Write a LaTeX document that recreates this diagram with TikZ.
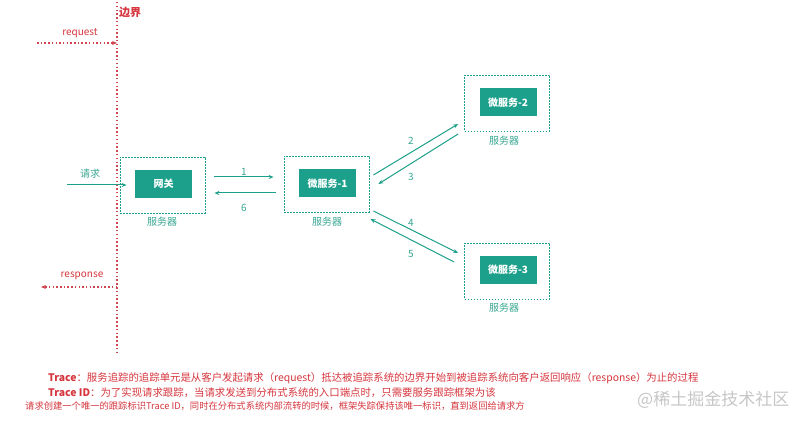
\documentclass[tikz,border=0pt]{standalone}
\usepackage{fontspec}
\setmainfont{Noto Sans CJK SC}
\usetikzlibrary{arrows.meta}
\definecolor{tealbox}{HTML}{1DA08B}
\definecolor{tealtxt}{HTML}{3AA893}
\definecolor{redb}{HTML}{D6363E}
\definecolor{redline}{HTML}{D04650}
\begin{document}
\begin{tikzpicture}[x=1pt,y=-1pt,
  outer/.style={draw=tealbox, dash pattern=on 1.6pt off 1.4pt, line width=0.8pt, minimum width=85pt, minimum height=56pt, inner sep=0pt},
  inner/.style={fill=tealbox, text=white, font=\bfseries\fontsize{10}{12}\selectfont, minimum width=57pt, minimum height=28pt, inner sep=0pt},
  lbl/.style={text=tealtxt, font=\fontsize{10}{12}\selectfont, inner sep=0pt},
  rlbl/.style={text=redb, font=\fontsize{10}{12}\selectfont, inner sep=0pt},
  garrow/.style={draw=tealbox, line width=1pt, -{Stealth[length=5pt,width=4pt]}},
  rarrow/.style={draw=redline, line width=1.1pt, dash pattern=on 1.5pt off 2.2pt, -{Stealth[length=5pt,width=4pt]}},
  note/.style={text=redb, anchor=base west, inner sep=0pt}]
\path[use as bounding box, fill=white] (0,0) rectangle (803,422);

% boundary
\coordinate (bt) at (117,2);
\coordinate (bb) at (117,352);
\draw[draw=redline, line width=1.2pt, dash pattern=on 1.5pt off 2.3pt] (bt) -- (bb);
\node[text=redb, font=\bfseries\fontsize{11}{13}\selectfont, inner sep=0pt] (bj) at (130,12) {边界};

\coordinate (rqs) at (37,43);
\coordinate (rqe) at (117,43);
\draw[rarrow] (rqs) -- (rqe);
\node[rlbl] (rq) at (80,33) {request};

\coordinate (rss) at (117,287);
\coordinate (rse) at (41,287);
\draw[rarrow] (rss) -- (rse);
\node[rlbl] (rs) at (82,276) {response};

% servers
\node[outer] (gwo) at (162.5,185) {};
\node[inner] (gw) at (163.5,184) {网关};
\node[lbl] (gwl) at (162,222) {服务器};

\node[outer] (m1o) at (326.5,184) {};
\node[inner] (m1) at (327.5,183.5) {微服务-1};
\node[lbl] (m1l) at (327,222) {服务器};

\node[outer] (m2o) at (507,103) {};
\node[inner] (m2) at (508,102.5) {微服务-2};
\node[lbl] (m2l) at (504,141) {服务器};

\node[outer] (m3o) at (507,271) {};
\node[inner] (m3) at (508,270) {微服务-3};
\node[lbl] (m3l) at (504,308) {服务器};

% request in
\coordinate (qin) at (67,185);
\draw[garrow] (qin) -- ([shift={(7,0)}]gwo.west);
\node[lbl] (ql) at (90,174) {请求};

% arrows
\draw[garrow] ([shift={(9,-8)}]gwo.east) -- ([shift={(-10,-7)}]m1o.west);
\node[lbl] at (244,172) {1};
\draw[garrow] ([shift={(-8,9)}]m1o.west) -- ([shift={(9,8)}]gwo.east);
\node[lbl] at (244,208) {6};

\draw[garrow] ([shift={(4,-9)}]m1o.east) -- ([shift={(-6,21)}]m2o.west);
\node[lbl] at (411,141) {2};
\draw[garrow] ([shift={(-6,31)}]m2o.west) -- ([shift={(9,0)}]m1o.east);
\node[lbl] at (411,177) {3};

\draw[garrow] ([shift={(4,27)}]m1o.east) -- ([shift={(-6,-18)}]m3o.west);
\node[lbl] at (411,223) {4};
\draw[garrow] ([shift={(-10,-9)}]m3o.west) -- ([shift={(1,35)}]m1o.east);
\node[lbl] at (411,254) {5};

% notes
\node[note, font=\fontsize{10.4}{12}\selectfont] (t1) at (48,381) {\textbf{Trace}：服务追踪的追踪单元是从客户发起请求（request）抵达被追踪系统的边界开始到被追踪系统向客户返回响应（response）为止的过程};
\node[note, font=\fontsize{10.4}{12}\selectfont] (t2) at (48,396) {\textbf{Trace ID}：为了实现请求跟踪，当请求发送到分布式系统的入口端点时，只需要服务跟踪框架为该};
\node[note, font=\fontsize{9.3}{11}\selectfont] (t3) at (25,409.5) {请求创建一个唯一的跟踪标识Trace ID，同时在分布式系统内部流转的时候，框架失踪保持该唯一标识，直到返回给请求方};

\node[text=black!22, anchor=west, inner sep=0pt, font=\fontsize{17}{19}\selectfont] (wm) at (637,400) {@稀土掘金技术社区};
\end{tikzpicture}
\end{document}
